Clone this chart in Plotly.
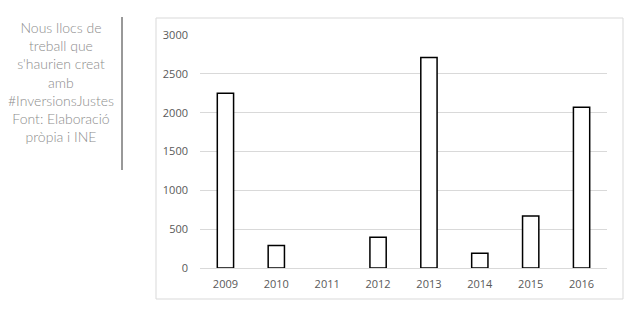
import plotly.graph_objects as go

years = ["2009", "2010", "2011", "2012", "2013", "2014", "2015", "2016"]
jobs = [2250, 290, 0, 395, 2710, 190, 670, 2070]
y_ticks = [0, 500, 1000, 1500, 2000, 2500, 3000]
side_text = ["Nous llocs de", "treball que", "s'haurien creat", "amb",
             "#InversionsJustes", "Font: Elaboració", "pròpia i INE"]

W, H = 640, 325
L, R, T, B = 200, 33, 35, 57
pw, ph = W - L - R, H - T - B

def px(x):
    return (x - L) / pw

def py(y):
    return (H - B - y) / ph

outline_w = [1.5 if v > 0 else 0 for v in jobs]

fig = go.Figure(go.Bar(
    x=years, y=jobs,
    width=0.32,
    marker=dict(color="white", line=dict(color="black", width=outline_w)),
))

fig.update_layout(
    width=W, height=H,
    margin=dict(l=L, r=R, t=T, b=B),
    paper_bgcolor="white", plot_bgcolor="white",
    showlegend=False,
    font=dict(family="Open Sans", color="#595959", size=11),
    xaxis=dict(showgrid=False, showline=False, ticks="", tickfont=dict(size=11, color="#595959"),
               ticklabelstandoff=8),
    yaxis=dict(range=[0, 3000], tickvals=y_ticks, showgrid=True, gridcolor="#d9d9d9",
               gridwidth=1, zeroline=True, zerolinecolor="#d9d9d9", zerolinewidth=1,
               ticks="", tickfont=dict(size=11, color="#595959"), ticklabelstandoff=11),
    shapes=[
        dict(type="rect", xref="paper", yref="paper",
             x0=px(156), x1=px(623), y0=py(299), y1=py(18),
             line=dict(color="#d9d9d9", width=1), fillcolor="rgba(0,0,0,0)", layer="below"),
        dict(type="line", xref="paper", yref="paper",
             x0=px(122), x1=px(122), y0=py(170), y1=py(17),
             line=dict(color="#333333", width=1)),
    ],
    annotations=[
        dict(text="<br>".join(side_text), xref="paper", yref="paper",
             x=px(61), y=py(82), xanchor="center", yanchor="middle",
             showarrow=False, align="center",
             font=dict(family="Lato", size=14, color="#8c8c8c", weight=300)),
    ],
)

fig.write_html("out.html")
